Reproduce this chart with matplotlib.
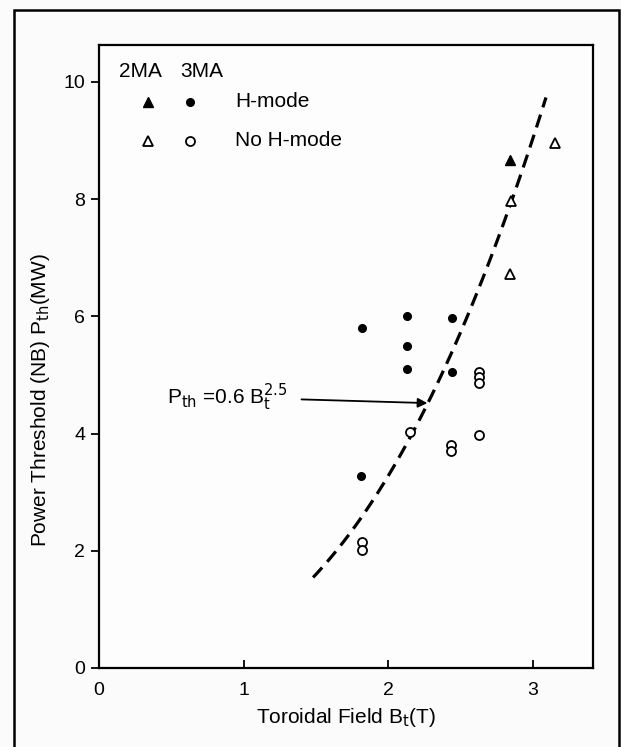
import matplotlib
matplotlib.use("Agg")
import matplotlib.pyplot as plt
from matplotlib.patches import Rectangle
import numpy as np

plt.rcParams['font.family'] = ['Liberation Sans', 'DejaVu Sans']

# ---- data ----
h3_x = [1.82, 2.13, 2.13, 2.13, 2.44, 2.44, 1.81]
h3_y = [5.80, 6.00, 5.50, 5.10, 5.97, 5.05, 3.27]
n3_x = [2.15, 2.43, 2.43, 2.63, 2.63, 2.63, 2.63, 1.82, 1.82]
n3_y = [4.02, 3.80, 3.70, 5.05, 4.97, 4.87, 3.97, 2.15, 2.02]
h2_x = [2.84]
h2_y = [8.67]
n2_x = [3.15, 2.85, 2.84]
n2_y = [8.95, 7.97, 6.72]
# dashed fit curve as drawn in the figure (P = c * B^2.5)
fit_coef = 0.58
fit_exp = 2.5
fit_range = (1.48, 3.09)
xticks = [0, 1, 2, 3]
yticks = [0, 2, 4, 6, 8, 10]

FS = 15
TFS = 14

fig = plt.figure(figsize=(6.21, 7.47), dpi=100)
fig.patch.set_facecolor('#fbfbfb')
# outer frame
fig.add_artist(Rectangle((14/621, -0.02), (619-14)/621, 1.02 - 10/747,
                         transform=fig.transFigure, fill=False, lw=1.8, ec='black'))

ax = fig.add_axes([99/621, 1-668/747, (593-99)/621, (668-45)/747])
ax.set_facecolor('#fdfdfd')
ax.set_xlim(0, 3.415)
ax.set_ylim(0, 10.63)
for s in ax.spines.values():
    s.set_linewidth(1.6)

ax.set_xticks(xticks)
ax.set_yticks(yticks)
ax.tick_params(axis='x', direction='in', length=6, width=1.3, labelsize=TFS, pad=10)
ax.tick_params(axis='y', direction='out', length=6, width=1.3, labelsize=TFS, pad=4)

bx = np.linspace(fit_range[0], fit_range[1], 100)
ax.plot(bx, fit_coef * bx**fit_exp, color='black', lw=2.3, dashes=(4.2, 2.4))

ax.plot(h3_x, h3_y, 'o', color='black', ms=5.5, ls='none')
ax.plot(n3_x, n3_y, 'o', mfc='white', mec='black', mew=1.3, ms=6.5, ls='none')
ax.plot(h2_x, h2_y, '^', color='black', ms=6.5, ls='none')
ax.plot(n2_x, n2_y, '^', mfc='white', mec='black', mew=1.3, ms=6.5, ls='none')

# legend drawn as text + markers
ax.text(0.14, 10.17, '2MA', fontsize=FS, va='center', ha='left')
ax.text(0.56, 10.17, '3MA', fontsize=FS, va='center', ha='left')
ax.plot([0.34], [9.66], '^', color='black', ms=6.5)
ax.plot([0.63], [9.66], 'o', color='black', ms=5.5)
ax.text(0.94, 9.66, 'H-mode', fontsize=FS, va='center', ha='left')
ax.plot([0.34], [9.0], '^', mfc='white', mec='black', mew=1.3, ms=6.5)
ax.plot([0.63], [9.0], 'o', mfc='white', mec='black', mew=1.3, ms=6.5)
ax.text(0.94, 9.0, 'No H-mode', fontsize=FS, va='center', ha='left')

ax.annotate(r'P$_{\mathrm{th}}$ =0.6 B$_{\mathrm{t}}^{2.5}$', xy=(2.27, 4.52), xytext=(0.47, 4.62),
            fontsize=FS, va='center', ha='left',
            arrowprops=dict(arrowstyle='-|>', color='black', lw=1.3,
                            shrinkA=8, shrinkB=0, mutation_scale=14))

ax.set_xlabel(r'Toroidal Field B$_{\mathrm{t}}$(T)', fontsize=FS, labelpad=5)
ax.set_ylabel(r'Power Threshold (NB) P$_{\mathrm{th}}$(MW)', fontsize=FS, labelpad=10)
ax.yaxis.set_label_coords(-0.095, 0.43)

fig.savefig('out.png', dpi=100, facecolor=fig.get_facecolor())
